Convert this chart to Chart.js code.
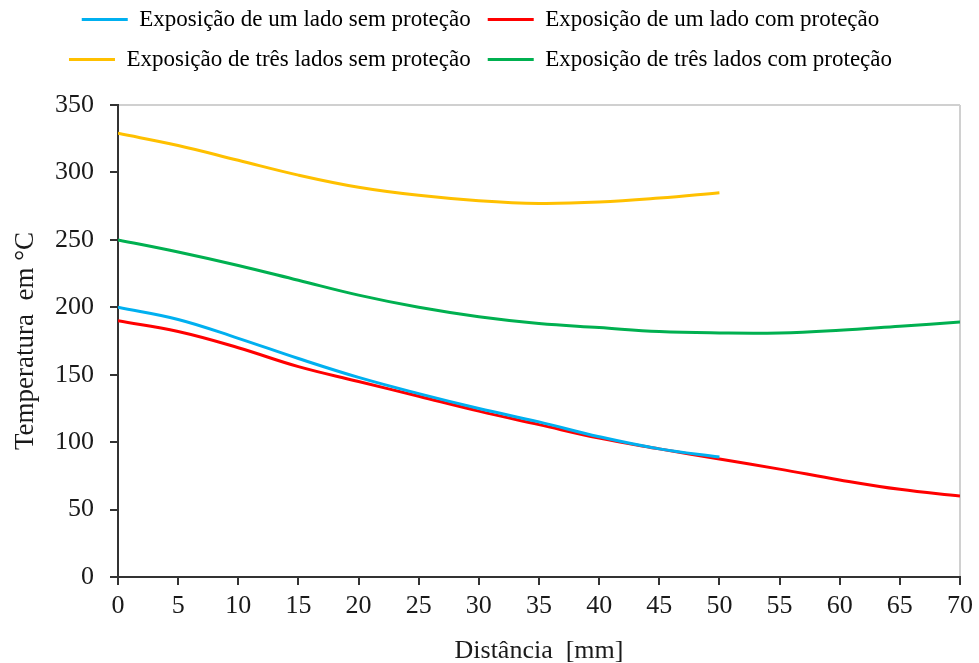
<!DOCTYPE html>
<html>
<head>
<meta charset="utf-8">
<script src="https://cdn.jsdelivr.net/npm/chart.js@4"></script>
<style>
html,body{margin:0;padding:0;background:#fff;}
#wrap{width:979px;height:663px;position:relative;}
</style>
</head>
<body>
<div id="wrap"><canvas id="c" width="979" height="663"></canvas></div>
<script>
// Distance (mm)
const distances = [0, 5, 10, 15, 20, 25, 30, 35, 40, 45, 50, 55, 60, 65, 70];
// Series (°C)
const umLadoSemProtecao   = [200, 191, 177, 162, 148, 136, 125, 115, 104, 95, 89];
const umLadoComProtecao   = [190, 182, 170, 156, 145, 134, 123, 113, 103, 95, 87.5, 80, 72, 65, 60];
const tresLadosSemProtecao = [329, 320, 309, 298, 289, 283, 279, 277, 278, 281, 285];
const tresLadosComProtecao = [250, 241, 231, 220, 209, 200, 193, 188, 185, 182, 181, 181, 183, 186, 189];
const seriesNames = [
  'Exposição de um lado sem proteção',
  'Exposição de um lado com proteção',
  'Exposição de três lados sem proteção',
  'Exposição de três lados com proteção'
];
const yTicks = [0, 50, 100, 150, 200, 250, 300, 350];
const xTicks = [0, 5, 10, 15, 20, 25, 30, 35, 40, 45, 50, 55, 60, 65, 70];

const colors = ['#00B0F0', '#FF0000', '#FFC000', '#00B050'];
const toPts = arr => arr.map((v, i) => ({x: distances[i], y: v}));

const serif = '"Liberation Serif", "Times New Roman", serif';

const ds = [umLadoSemProtecao, umLadoComProtecao, tresLadosSemProtecao, tresLadosComProtecao].map((arr, i) => ({
  label: seriesNames[i],
  data: toPts(arr),
  borderColor: colors[i],
  backgroundColor: colors[i],
  borderWidth: 3,
  pointRadius: 0,
  tension: 0.4,
  fill: false
}));

const legendSpace = {
  id: 'legendSpace',
  beforeLayout(chart) {
    if (chart.legend && !chart.legend._patched) {
      const orig = chart.legend.fit;
      chart.legend.fit = function() { orig.call(this); this.height += 24; };
      chart.legend._patched = true;
    }
  }
};

new Chart(document.getElementById('c'), {
  type: 'line',
  data: { datasets: ds },
  options: {
    responsive: false,
    animation: false,
    layout: { padding: { top: -9, right: 18, bottom: 0, left: 0 } },
    plugins: {
      tooltip: { enabled: false },
      legend: {
        position: 'top',
        labels: {
          font: { family: serif, size: 23 },
          color: '#1a1a1a',
          boxWidth: 46,
          boxHeight: 3,
          padding: 17,
          generateLabels(chart) {
            return chart.data.datasets.map((d, i) => ({
              text: d.label,
              fillStyle: d.borderColor,
              strokeStyle: d.borderColor,
              lineWidth: 0,
              hidden: false,
              datasetIndex: i
            }));
          }
        }
      }
    },
    scales: {
      x: {
        type: 'linear',
        min: 0, max: 70,
        afterFit(s) { s.height = 86; },
        afterBuildTicks(s) { s.ticks = xTicks.map(v => ({value: v})); },
        ticks: { font: { family: serif, size: 26 }, color: '#1a1a1a', padding: 6, maxRotation: 0 },
        grid: {
          drawOnChartArea: true,
          color: c => (c.tick && c.tick.value === 70) ? '#d0d0d0' : 'rgba(0,0,0,0)',
          lineWidth: 2,
          tickColor: '#333',
          tickLength: 8,
          tickWidth: 2
        },
        border: { color: '#333', width: 2 },
        title: { display: true, text: 'Distância  [mm]', font: { family: serif, size: 26 }, color: '#1a1a1a', padding: { top: 0, bottom: -4 } }
      },
      y: {
        min: 0, max: 350,
        afterFit(s) { s.width = 118; },
        afterBuildTicks(s) { s.ticks = yTicks.map(v => ({value: v})); },
        ticks: { font: { family: serif, size: 26 }, color: '#1a1a1a', padding: 16 },
        grid: {
          drawOnChartArea: true,
          color: c => (c.tick && c.tick.value === 350) ? '#d0d0d0' : 'rgba(0,0,0,0)',
          lineWidth: 2,
          tickColor: '#333',
          tickLength: 8,
          tickWidth: 2
        },
        border: { color: '#333', width: 2 },
        title: { display: true, text: 'Temperatura  em °C', font: { family: serif, size: 27 }, color: '#1a1a1a', padding: { top: 10, bottom: 0 } }
      }
    }
  },
  plugins: [legendSpace]
});
</script>
</body>
</html>
